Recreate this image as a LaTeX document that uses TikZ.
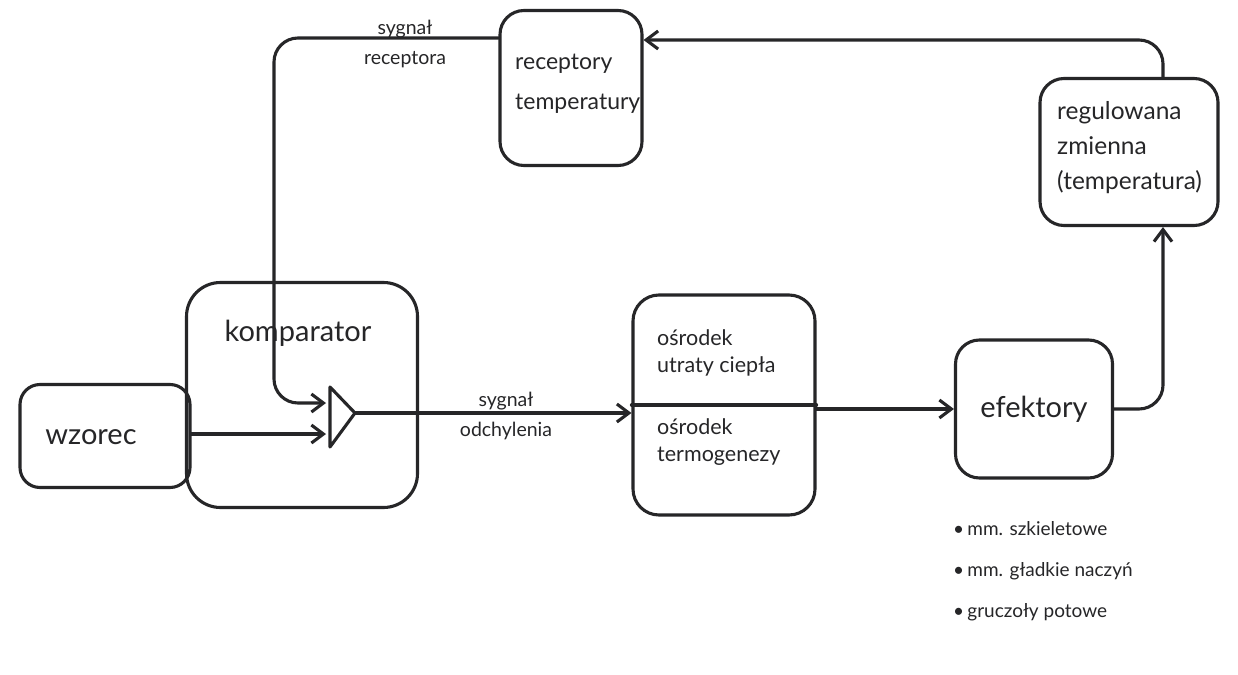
\documentclass[tikz,border=0pt]{standalone}
\usepackage{fontspec}
\setmainfont{Lato}
\usetikzlibrary{arrows.meta}
\definecolor{ink}{RGB}{38,38,40}
\begin{document}
\begin{tikzpicture}[x=1pt,y=-1pt,
  pen/.style={line width=3.1pt, draw=ink, line cap=round, line join=round},
  blok/.style={pen, rounded corners=#1, inner sep=0pt},
  arr/.style={pen, -{Straight Barb[length=12pt,width=18pt]}},
  big/.style={text=ink, inner sep=0pt, font=\fontsize{29}{32}\selectfont},
  mid/.style={text=ink, inner sep=0pt, align=left, font=\fontsize{23}{40}\selectfont},
  small/.style={text=ink, inner sep=0pt, align=left, font=\fontsize{21.5}{27}\selectfont},
  tiny/.style={text=ink, inner sep=0pt, align=center, font=\fontsize{19.5}{30}\selectfont},
  list/.style={text=ink, inner sep=0pt, align=left, font=\fontsize{19}{41}\selectfont}]
  \path[use as bounding box, fill=white] (0,0) rectangle (1238,674);

  % blocks
  \node[blok=20pt, minimum width=170pt, minimum height=103pt] (wz) at (105,436) {};
  \node[blok=34pt, minimum width=231pt, minimum height=225pt] (komp) at (302,395) {};
  \node[blok=24pt, minimum width=142pt, minimum height=155pt] (rec) at (571,88) {};
  \node[blok=24pt, minimum width=178pt, minimum height=147pt] (reg) at (1129,152) {};
  \node[blok=26pt, minimum width=182pt, minimum height=220pt] (osr) at (724,405) {};
  \node[blok=24pt, minimum width=157pt, minimum height=138pt] (eff) at (1034,409) {};
  \draw[pen] (osr.west) -- (osr.east);

  % texts
  \node[big] (wzT) at (91,437) {wzorec};
  \node[big] (kompT) at (298,333) {komparator};
  \node[mid, anchor=west] (recT) at (515,84) {receptory\\temperatury};
  \node[mid, anchor=west, font=\fontsize{24.5}{35}\selectfont] (regT) at (1057,148) {regulowana\\zmienna\\(temperatura)};
  \node[small, anchor=west] (osrA) at (657,353) {ośrodek\\utraty ciepła};
  \node[small, anchor=west] (osrB) at (657,442) {ośrodek\\termogenezy};
  \node[big] (effT) at (1034,409) {efektory};
  \node[tiny] (sigR) at (405,44) {sygnał\\receptora};
  \node[tiny] (sigO) at (506,416) {sygnał\\odchylenia};
  \node[list, anchor=west] (effL) at (953,571) {•\,mm. szkieletowe\\•\,mm. gładkie naczyń\\•\,gruczoły potowe};

  % comparator triangle
  \coordinate (triA) at (330,387);
  \coordinate (triB) at (330,447);
  \coordinate (triC) at (355,413);
  \draw[pen] (triA) -- (triC) -- (triB) -- cycle;
  \coordinate (inA) at (326,403);
  \coordinate (inB) at (326,434);

  % helper levels
  \coordinate (yTop) at (0,38);
  \coordinate (yRet) at (0,40);
  \coordinate (xL) at (274,0);
  \coordinate (xR) at (1163,0);

  % connectors
  \draw[arr, rounded corners=24pt] (rec.west |- yTop) -- (xL |- yTop) -- (xL |- inA) -- (inA);
  \draw[arr] (wz.east |- inB) -- (inB);
  \draw[arr] (triC) -- (osr.west |- triC);
  \draw[arr] (osr.east |- eff.west) -- (eff.west);
  \draw[arr, rounded corners=24pt] (eff.east) -- (eff.east -| xR) -- (reg.south -| xR);
  \draw[arr, rounded corners=24pt] (reg.north -| xR) -- (xR |- yRet) -- (rec.east |- yRet);
\end{tikzpicture}
\end{document}
